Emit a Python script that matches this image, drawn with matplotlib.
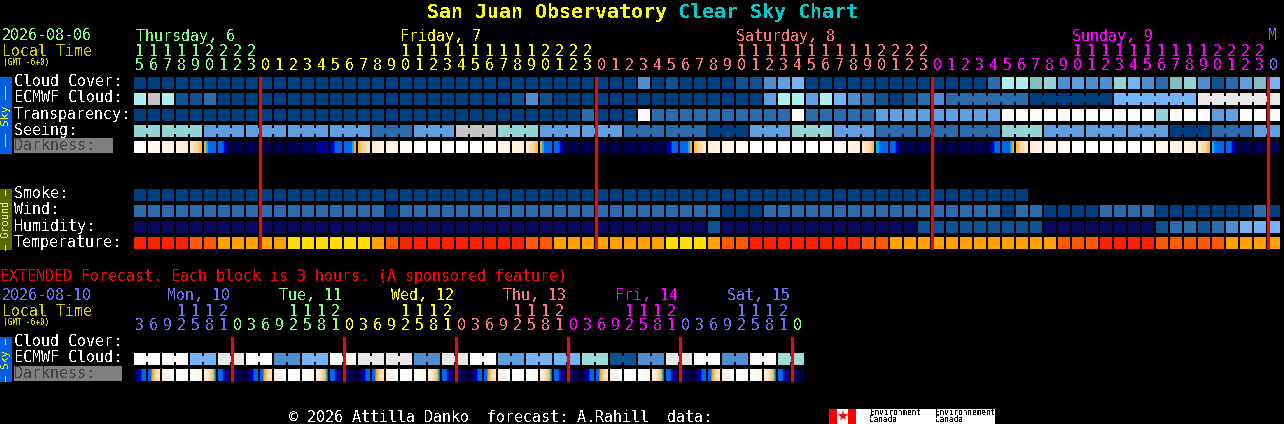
import numpy as np
import matplotlib
matplotlib.use('Agg')
import matplotlib.pyplot as plt
from matplotlib.colors import LinearSegmentedColormap

W, H = 1284, 424
plt.rcParams['font.family'] = 'DejaVu Sans Mono'
plt.rcParams['text.antialiased'] = False

# block colours, index = level in the rows below
cloud_colors = ['#003F7F', '#0F5291', '#2C6CAC', '#4F8FCF', '#5F9FDF', '#74B4F4',
                '#80BFBF', '#96D4D4', '#AEEEEE', '#C4C4C4', '#E8E8E8', '#FBFBFB', '#9EDCDC']
humidity_colors = ['#08085F', '#0F5291', '#2C6CAC', '#4F8FCF', '#74B4F4']
temp_colors = ['#FF2000', '#FF5A00', '#FF9F00', '#FFDD00']

# hourly rows, 82 blocks starting 15:00 Thursday
cloud_cover = [0, 0, 0, 0, 0, 0, 0, 0, 0, 0, 0, 0, 0, 0, 0, 0, 0, 0, 0, 0, 0, 0, 0, 0, 0, 0, 0,
               0, 0, 0, 0, 0, 0, 0, 0, 0, 3, 0, 1, 0, 0, 0, 0, 1, 1, 3, 4, 5, 0, 0, 0, 0, 0, 0,
               0, 0, 0, 0, 0, 0, 0, 2, 8, 8, 6, 7, 3, 4, 3, 3, 7, 5, 3, 2, 6, 7, 3, 1, 2, 4, 6, 5]
ecmwf_cloud = [8, 9, 8, 1, 1, 2, 0, 0, 0, 0, 0, 0, 0, 0, 0, 0, 0, 0, 0, 0, 0, 0, 0, 0, 0, 0, 0,
               1, 3, 1, 0, 0, 0, 0, 0, 0, 0, 0, 0, 0, 0, 0, 0, 0, 0, 4, 8, 8, 4, 8, 5, 3, 2, 1,
               0, 1, 2, 3, 2, 2, 2, 2, 2, 2, 0, 0, 0, 0, 0, 0, 5, 5, 5, 5, 5, 5, 10, 10, 10, 10, 10, 10]
transparency = [0, 0, 0, 0, 0, 0, 0, 0, 0, 0, 0, 0, 0, 0, 0, 0, 0, 0, 0, 0, 0, 0, 0, 0, 0, 0, 0,
                0, 0, 0, 0, 0, 2, 0, 0, 0, 11, 2, 2, 2, 2, 2, 2, 2, 2, 2, 2, 11, 2, 2, 2, 2, 2, 4,
                4, 4, 4, 4, 4, 4, 4, 4, 11, 11, 11, 11, 11, 11, 11, 11, 11, 11, 11, 7, 11, 11, 11, 4, 4, 11, 11, 11]
seeing_runs = [2, 3, 3, 3, 3, 3, 3, 3, 3, 3, 3, 3, 3, 3, 3, 3, 3, 3, 3, 3, 3, 3, 3, 3, 3, 3, 3, 2]
seeing = [7, 7, 4, 4, 4, 4, 2, 4, 9, 7, 4, 4, 2, 2, 0, 4, 7, 4, 2, 2, 2, 7, 4, 4, 4, 0, 2, 4]
smoke = [0, 0, 0, 0, 0, 0, 0, 0, 0, 0, 0, 0, 0, 0, 0, 0, 0, 0, 0, 0, 0, 0, 0, 0, 0, 0, 0, 0, 0, 0, 0, 0,
         0, 0, 0, 0, 0, 0, 0, 0, 0, 0, 0, 0, 0, 0, 0, 0, 0, 0, 0, 0, 0, 0, 0, 0, 0, 0, 0, 0, 0, 0, 0, 0]
wind = [2, 2, 2, 2, 2, 2, 2, 2, 2, 2, 2, 2, 2, 2, 2, 2, 2, 2, 0, 2, 2, 2, 2, 2, 2, 2, 2,
        2, 2, 2, 2, 2, 2, 2, 2, 2, 2, 2, 2, 2, 2, 2, 0, 0, 0, 2, 2, 2, 2, 2, 2, 2, 2, 2,
        2, 2, 2, 2, 2, 2, 2, 2, 0, 2, 2, 0, 0, 0, 0, 2, 2, 2, 2, 0, 0, 0, 0, 0, 0, 0, 2, 0]
humidity = [0, 0, 0, 0, 0, 0, 0, 0, 0, 0, 0, 0, 0, 0, 0, 0, 0, 0, 0, 0, 0, 0, 0, 0, 0, 0, 0,
            0, 0, 0, 0, 0, 0, 0, 0, 0, 0, 0, 0, 0, 0, 1, 0, 0, 0, 0, 0, 0, 0, 0, 0, 0, 0, 0,
            0, 0, 1, 1, 1, 1, 1, 1, 1, 1, 1, 0, 0, 0, 0, 0, 0, 0, 0, 1, 2, 2, 1, 2, 3, 4, 4, 4]
temperature = [0, 0, 0, 0, 1, 1, 2, 2, 2, 2, 2, 3, 3, 3, 3, 3, 3, 2, 1, 0, 0, 0, 0, 0, 0, 0, 0,
               0, 1, 1, 2, 2, 2, 2, 2, 2, 2, 2, 3, 3, 3, 2, 1, 1, 0, 0, 0, 0, 0, 0, 0, 0, 1, 1,
               2, 2, 2, 2, 2, 2, 2, 2, 2, 2, 2, 2, 1, 1, 1, 0, 0, 0, 0, 1, 1, 1, 1, 1, 2, 2, 2, 2]

# darkness: brightness at the left and right edge of each block
dark_left = [1, .95, .9, .82, .72, .46, .3, .04, .04, .03, .04, .06, .08, .11, .12, .3, .5, .75, .85, .92, 1, 1,
             1, 1, 1, .97, .92, .85, .75, .46, .3, .04, .04, .04, .04, .04, .05, .07, .09, .3, .5, .78, .85, .92,
             1, 1, 1, 1, 1, 1, .97, .88, .78, .44, .3, .04, .04, .04, .04, .04, .06, .06, .3, .5, .78, .85, .92,
             1, 1, 1, 1, 1, 1, .95, .88, .85, .75, .43, .3, .04, .05, .05]
dark_right = [1, .9, .8, .72, .5, .3, .06, .04, .04, .03, .04, .06, .08, .11, .3, .46, .72, .85, .9, .96, 1, 1,
              1, 1, 1, .92, .8, .75, .5, .3, .06, .04, .04, .04, .04, .04, .05, .07, .3, .46, .75, .85, .9, .97,
              1, 1, 1, 1, 1, .95, .85, .78, .5, .3, .06, .04, .04, .04, .04, .04, .06, .3, .46, .75, .85, .9, .96,
              1, 1, 1, 1, 1, .95, .88, .8, .75, .5, .3, .06, .04, .05, .05]

# extended forecast, 24 cloud blocks (2 columns each) and 48 darkness blocks
ext_cloud = [11, 11, 5, 10, 11, 3, 5, 11, 10, 10, 3, 10, 11, 4, 5, 5, 12, 1, 3, 10, 11, 3, 11, 12]
ext_dark_left = [.02, .3, .8, 1, 1, .85, .3, .03, .02, .3, .8, 1, 1, .85, .3, .03, .02, .3, .8, 1, 1, .85, .3, .03,
                 .02, .3, .8, 1, 1, .85, .3, .03, .02, .3, .8, 1, 1, .85, .3, .03, .02, .3, .8, 1, 1, .85, .3, .03]
ext_dark_right = [.28, .75, 1, 1, .85, .4, .02, .03, .28, .75, 1, 1, .85, .4, .02, .03, .28, .75, 1, 1, .85, .4, .02, .03,
                  .28, .75, 1, 1, .85, .4, .02, .03, .28, .75, 1, 1, .85, .4, .02, .03, .28, .75, 1, 1, .85, .4, .02, .03]

hour_start = 15
ext_hours = [3, 6, 9, 12, 15, 18, 21, 0]

c_green, c_yellow, c_red, c_mag, c_blue = '#80FF80', '#FFFF00', '#FF7878', '#FF00FF', '#7070FF'
day_names = ['Thursday, 6', 'Friday, 7', 'Saturday, 8', 'Sunday, 9', 'M']
day_x = [136, 400, 736, 1072, 1268]
day_colors = [c_green, c_yellow, c_red, c_mag, c_blue]
ext_names = ['Mon, 10', 'Tue, 11', 'Wed, 12', 'Thu, 13', 'Fri, 14', 'Sat, 15']
ext_x = [167, 279, 391, 503, 615, 727]
ext_colors = [c_blue, c_green, c_yellow, c_red, c_mag, c_blue, c_green]
main_labels = ['Cloud Cover:', 'ECMWF Cloud:', 'Transparency:', 'Seeing:', 'Darkness:']
ground_labels = ['Smoke:', 'Wind:', 'Humidity:', 'Temperature:']

BLOCK_W = 12 / 14
BLOCK_H = 12 / 16
NECK_H = 6 / 16
RED_LW = 2.0

dark_cmap = LinearSegmentedColormap.from_list('dark', [
    (0, '#000040'), (.08, '#000060'), (.12, '#0000A8'), (.17, '#0000C8'), (.2, '#0066EE'),
    (.405, '#0066EE'), (.41, '#00A8FF'), (.44, '#00C0E0'), (.445, '#FFA020'), (.5, '#FFB040'),
    (.6, '#FFD8A0'), (.75, '#FFECD2'), (.9, '#FFF8EE'), (1, '#FFFFFF')], N=512)
dark_cmap.set_bad((0, 0, 0, 0))


def draw_blocks(ax, row, values, palette, columns=None):
    cols = np.arange(len(values)) if columns is None else columns
    ax.bar(cols, BLOCK_H, width=BLOCK_W, bottom=row, align='edge', linewidth=0,
           color=[palette[v] for v in values], antialiased=False)


def draw_necks(ax, row, cols, values, palette):
    # small bridge across the gap, joins blocks of one forecast step
    ax.bar(np.array(cols) + BLOCK_W, NECK_H, width=1 - BLOCK_W, bottom=row + (BLOCK_H - NECK_H) / 2,
           align='edge', linewidth=0, color=[palette[v] for v in values], antialiased=False)


def draw_darkness(ax, row, left, right):
    # one image with 14 samples per block, the last 2 are the gap
    samples = []
    for a, b in zip(left, right):
        samples.extend(np.linspace(a, b, 12))
        samples.extend([np.nan, np.nan])
    ax.imshow(np.array(samples)[None, :], cmap=dark_cmap, vmin=0, vmax=1, aspect='auto',
              interpolation='nearest', extent=(0, len(left), row + BLOCK_H, row))


def chart_axes(fig, x, y, n_cols, n_rows):
    ax = fig.add_axes([x / W, 1 - (y + n_rows * 16) / H, n_cols * 14 / W, n_rows * 16 / H])
    ax.set_xlim(0, n_cols)
    ax.set_ylim(n_rows, 0)
    ax.axis('off')
    return ax


fig = plt.figure(figsize=(W / 100, H / 100), dpi=100, facecolor='black')

# page layer in pixels, for the texts and side tabs
page = fig.add_axes([0, 0, 1, 1])
page.set_xlim(0, W)
page.set_ylim(H, 0)
page.axis('off')


def put(x, y, s, color='white', size=10.8, **kw):
    page.text(x, y + 1, s, color=color, fontsize=size, va='center', ha=kw.pop('ha', 'left'), **kw)


put(427, 12, 'San Juan Observatory', '#FFFF00', 14.4, fontweight='bold')
put(678, 12, 'Clear Sky Chart', '#00CCCC', 14.4, fontweight='bold')

put(2, 35, '2026-08-06', c_green)
put(2, 50, 'Local Time', '#D0D000')
put(3, 61, '(GMT -6+0)', '#D0D000', 5.6)
for x, name, col in zip(day_x, day_names, day_colors):
    put(x, 35, name, col)

# side tabs
page.fill_between([0, 12], 77, 154, color='#0060E0', linewidth=0)
page.fill_between([0, 12], 189, 250, color='#556B00', linewidth=0)
page.fill_between([0, 12], 337, 382, color='#0060E0', linewidth=0)
page.text(6, 115.5, '\u2013\u2013 Sky \u2013\u2013', color='#FFFF00', fontsize=8, rotation=90, ha='center', va='center')
page.text(6, 219.5, '\u2013 Ground \u2013', color='#E8E8A0', fontsize=7.4, rotation=90, ha='center', va='center')
page.text(6, 359.5, '\u2013 Sky \u2013', color='#FFFF00', fontsize=7.4, rotation=90, ha='center', va='center')

# darkness label boxes
page.fill_between([14, 113], 138, 153, color='#808080', linewidth=0)
page.fill_between([14, 122], 366, 381, color='#808080', linewidth=0)

for k, lab in enumerate(main_labels):
    put(14, 81 + 16 * k, lab, '#404040' if lab == 'Darkness:' else 'white')
for k, lab in enumerate(ground_labels):
    put(14, 193 + 16 * k, lab)

put(0, 276, 'EXTENDED Forecast. Each block is 3 hours. (A sponsored feature)', '#FF0000')
put(2, 295, '2026-08-10', c_blue)
put(2, 310, 'Local Time', '#D0D000')
put(3, 321, '(GMT -6+0)', '#D0D000', 5.6)
for x, name, col in zip(ext_x, ext_names, ext_colors):
    put(x, 295, name, col)
put(14, 341, 'Cloud Cover:')
put(14, 357, 'ECMWF Cloud:')
put(14, 373, 'Darkness:', '#404040')
put(289, 416, '\u00a9 2026 Attilla Danko  forecast: A.Rahill  data:')

# Environment Canada logo
page.fill_between([829, 995], 409, 424, color='white', linewidth=0)
page.fill_between([829, 837], 409, 424, color='#FF0000', linewidth=0)
page.fill_between([848, 856], 409, 424, color='#FF0000', linewidth=0)
page.plot([842.5], [416], marker='*', ms=8, color='#FF0000', mew=0)
page.text(870, 412.5, 'Environment', color='black', fontsize=5.6, va='center')
page.text(870, 420, 'Canada', color='black', fontsize=5.6, va='center')
page.text(935, 412.5, 'Environnement', color='black', fontsize=5.6, va='center')
page.text(935, 420, 'Canada', color='black', fontsize=5.6, va='center')

# main chart, x in hour blocks and y in rows
ax = chart_axes(fig, 134, 77, 82, 11)
draw_blocks(ax, 0, cloud_cover, cloud_colors)
draw_blocks(ax, 1, ecmwf_cloud, cloud_colors)
draw_blocks(ax, 2, transparency, cloud_colors)

# seeing comes in 3 hour steps
seeing_values = []
for val, run in zip(seeing, seeing_runs):
    seeing_values.extend([val] * run)
draw_blocks(ax, 3, seeing_values, cloud_colors)
stops = np.cumsum(seeing_runs)
neck_cols = [c for c in range(81) if c + 1 not in stops]
draw_necks(ax, 3, neck_cols, [seeing_values[c] for c in neck_cols], cloud_colors)

# ECMWF goes to 6 hour steps near the end
neck_cols = [c for c in range(58, 81) if ecmwf_cloud[c] == ecmwf_cloud[c + 1]]
draw_necks(ax, 1, neck_cols, [ecmwf_cloud[c] for c in neck_cols], cloud_colors)

draw_darkness(ax, 4, dark_left, dark_right)
draw_blocks(ax, 7, smoke, cloud_colors)
draw_blocks(ax, 8, wind, cloud_colors)
draw_blocks(ax, 9, humidity, humidity_colors)
draw_blocks(ax, 10, temperature, temp_colors)
ax.set_xlim(0, 82)
ax.set_ylim(11, 0)
ax.vlines([9, 33, 57, 81], 0, 10.75, color='#FF0000', linewidth=RED_LW, antialiased=False)

for i in range(82):
    hour = (hour_start + i) % 24
    col = day_colors[sum(i >= m for m in (9, 33, 57, 81))]
    if hour >= 10:
        put(134 + 14 * i + 5.5, 50, str(hour // 10), col, ha='center')
    put(134 + 14 * i + 5.5, 65, str(hour % 10), col, ha='center')

# extended chart
ax2 = chart_axes(fig, 134, 337, 48, 3)
draw_blocks(ax2, 1, ext_cloud, cloud_colors, columns=np.arange(len(ext_cloud)) * 2)
draw_necks(ax2, 1, np.arange(len(ext_cloud)) * 2, ext_cloud, cloud_colors)
ax2.bar(np.arange(len(ext_cloud)) * 2 + 1, BLOCK_H, width=BLOCK_W, bottom=1, align='edge', linewidth=0,
        color=[cloud_colors[v] for v in ext_cloud], antialiased=False)
draw_darkness(ax2, 2, ext_dark_left, ext_dark_right)
ax2.set_xlim(0, 48)
ax2.set_ylim(3, 0)
ax2.vlines([7, 15, 23, 31, 39, 47], 0, 2.75, color='#FF0000', linewidth=RED_LW, antialiased=False)

for i in range(48):
    hour = ext_hours[i % 8]
    col = ext_colors[(i + 1) // 8]
    if hour >= 10:
        put(134 + 14 * i + 5.5, 310, str(hour // 10), col, ha='center')
    put(134 + 14 * i + 5.5, 325, str(hour % 10), col, ha='center')

fig.savefig('out.png', dpi=100, facecolor='black')
